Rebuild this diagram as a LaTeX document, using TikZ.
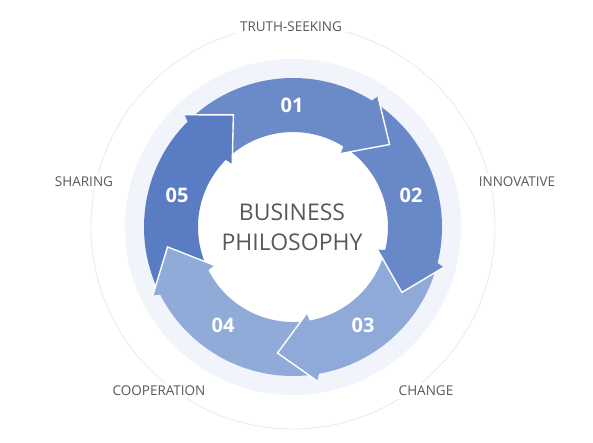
\documentclass[tikz,border=0pt]{standalone}
\usepackage{fontspec}
\setmainfont{Open Sans}
\definecolor{cA}{HTML}{6A8AC8}
\definecolor{cB}{HTML}{6888C8}
\definecolor{cC}{HTML}{8FAAD8}
\definecolor{cD}{HTML}{91ABD9}
\definecolor{cE}{HTML}{5A7CC3}
\definecolor{ringc}{HTML}{F1F4FA}
\definecolor{faint}{HTML}{ECECEC}
\definecolor{txt}{HTML}{595959}
\tikzset{
  lbl/.style={fill=white, text=txt, font=\fontsize{13.5}{16}\selectfont, inner sep=3pt},
  num/.style={text=white, font=\bfseries\fontsize{20}{24}\selectfont},
  headedge/.style={draw=white, line width=1.4pt, line join=miter},
}
% body from angle #1 (start) clockwise to #2, extended 2 degrees under its own head
\newcommand{\bodyseg}[3]{\fill[#3] (#1:149) arc[start angle=#1, end angle=#2-2, radius=149] -- (#2-2:95) arc[start angle=#2-2, end angle=#1, radius=95] -- cycle;}
\newcommand{\headseg}[3]{\fill[#3] (#1+1:149) -- (#1:156) -- (#2:127) -- (#1:87.5) -- (#1+1:95) -- cycle;
  \draw[headedge] (#1:156) -- (#2:127) -- (#1:87.5);}
\begin{document}
\begin{tikzpicture}[x=1pt,y=1pt]
\useasboundingbox (-293,-216) rectangle (300,227);
\fill[white] (-293,-216) rectangle (300,227);
\coordinate (c) at (0,0);
% faint outer circle
\draw[faint, line width=0.9pt] (c) circle[radius=202];
% light ring
\fill[ringc] (c) circle[radius=168];
\fill[white] (c) circle[radius=95];
% bodies
\bodyseg{134}{57}{cA}
\bodyseg{57}{-15}{cB}
\bodyseg{-15}{-81}{cC}
\bodyseg{-81}{-154}{cD}
\bodyseg{206}{134}{cE}
% heads
\headseg{57}{40.5}{cA}
\headseg{-15}{-31}{cB}
\headseg{-81}{-97}{cC}
\headseg{206}{189}{cD}
\headseg{134}{118}{cE}
% numbers
\node[num] (n1) at (-1,122) {01};
\node[num] (n2) at (118,32) {02};
\node[num] (n3) at (70,-98) {03};
\node[num] (n4) at (-70,-98) {04};
\node[num] (n5) at (-116,32) {05};
% center
\node[text=txt, font=\fontsize{23}{30}\selectfont, align=center] (center) at (-1,0) {BUSINESS\\PHILOSOPHY};
% labels
\node[lbl] (l1) at (-2,200) {TRUTH-SEEKING};
\node[lbl] (l2) at (224,45) {INNOVATIVE};
\node[lbl] (l3) at (-209,45) {SHARING};
\node[lbl] (l4) at (-134,-164) {COOPERATION};
\node[lbl] (l5) at (133,-164) {CHANGE};
\end{tikzpicture}
\end{document}
